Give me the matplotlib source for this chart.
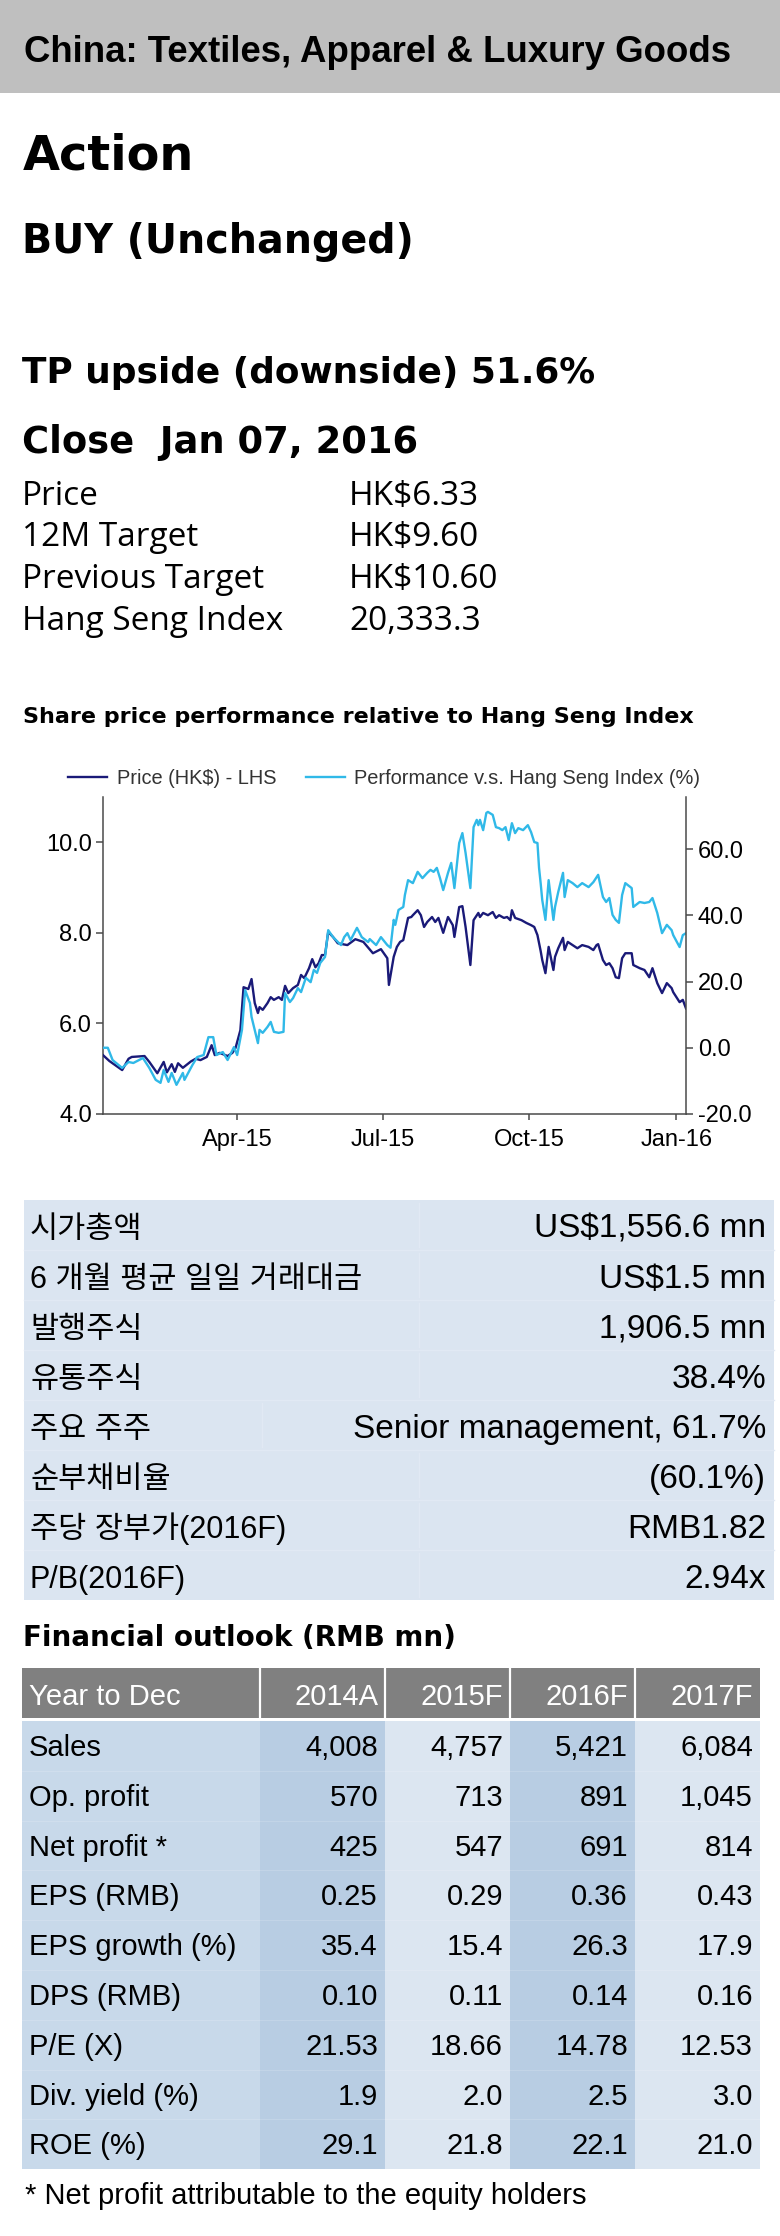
import matplotlib
matplotlib.use('Agg')
import matplotlib.pyplot as plt
import matplotlib.dates as mdates
from matplotlib.patches import Rectangle
from matplotlib.ticker import FormatStrFormatter
import pandas as pd

W, H = 780, 2236

# ---- text blocks ----
sector = 'China: Textiles, Apparel & Luxury Goods'
rating = 'BUY (Unchanged)'
upside_line = 'TP upside (downside) 51.6%'
close_line = 'Close  Jan 07, 2016'
quote_labels = ['Price', '12M Target', 'Previous Target', 'Hang Seng Index']
quote_values = ['HK$6.33', 'HK$9.60', 'HK$10.60', '20,333.3']

# ---- share price chart (days counted from 2015-01-07) ----
start = pd.Timestamp('2015-01-07')
price_day = [0, 4, 12, 16, 18, 26, 29, 34, 38, 40, 43, 45, 47, 50, 55, 58, 61, 65, 68, 70,
             73, 78, 81, 83, 86, 88, 91, 93, 95, 97, 98, 100, 103, 105, 107, 110, 112, 114, 116, 119,
             122, 124, 126, 129, 131, 133, 135, 137, 139, 141, 144, 147, 153, 158, 163, 169, 174, 178, 179, 182,
             184, 186, 188, 191, 193, 194, 197, 199, 201, 203, 206, 208, 210, 213, 216, 219, 220, 223, 225, 227,
             230, 232, 235, 236, 238, 241, 244, 246, 248, 251, 253, 255, 256, 258, 262, 265, 268, 270, 272, 274,
             275, 277, 279, 282, 283, 285, 288, 289, 291, 294, 297, 300, 304, 307, 309, 310, 313, 315, 317, 319,
             321, 323, 325, 327, 331, 332, 336, 339, 342, 344, 347, 350, 353, 356, 357, 361, 363, 365]
price_hkd = [5.30, 5.17, 4.97, 5.22, 5.26, 5.28, 5.15, 4.90, 5.15, 4.92, 5.10, 4.93, 5.12, 5.02, 5.16, 5.22, 5.19, 5.26, 5.52, 5.30,
             5.35, 5.28, 5.35, 5.46, 5.85, 6.80, 6.76, 6.98, 6.45, 6.23, 6.36, 6.30, 6.45, 6.58, 6.52, 6.58, 6.52, 6.83, 6.67, 6.78,
             6.85, 7.07, 7.00, 7.22, 7.42, 7.24, 7.33, 7.51, 7.51, 8.02, 7.91, 7.77, 7.73, 7.86, 7.80, 7.55, 7.64, 7.44, 6.85, 7.47,
             7.69, 7.80, 7.84, 8.33, 8.35, 8.39, 8.50, 8.39, 8.13, 8.24, 8.35, 8.24, 8.33, 8.00, 8.35, 8.17, 7.91, 8.57, 8.59, 8.13,
             7.29, 8.28, 8.44, 8.35, 8.44, 8.39, 8.46, 8.33, 8.39, 8.33, 8.35, 8.28, 8.50, 8.33, 8.28, 8.22, 8.17, 8.13, 7.95, 7.60,
             7.40, 7.11, 7.69, 7.18, 7.47, 7.66, 7.89, 7.62, 7.80, 7.73, 7.66, 7.73, 7.69, 7.62, 7.73, 7.75, 7.40, 7.29, 7.33, 7.22,
             7.02, 7.00, 7.44, 7.55, 7.55, 7.29, 7.22, 7.18, 7.02, 7.22, 6.89, 6.67, 6.89, 6.78, 6.69, 6.47, 6.52, 6.33]
perf_day = [0, 3, 6, 12, 16, 19, 25, 29, 33, 36, 38, 41, 43, 46, 50, 51, 56, 59, 63, 66,
            69, 71, 75, 78, 82, 84, 87, 89, 92, 93, 97, 98, 100, 103, 105, 107, 110, 113, 114, 117,
            119, 122, 124, 127, 130, 132, 134, 136, 139, 141, 144, 149, 151, 153, 155, 159, 162, 166, 167, 171,
            174, 178, 180, 182, 183, 185, 188, 189, 191, 194, 197, 200, 203, 205, 207, 209, 211, 213, 216, 218,
            220, 223, 225, 227, 230, 232, 234, 235, 236, 238, 240, 241, 244, 246, 248, 250, 252, 254, 256, 258,
            260, 263, 266, 268, 270, 272, 273, 274, 275, 277, 279, 282, 283, 285, 288, 289, 291, 294, 297, 300,
            304, 307, 309, 310, 313, 315, 317, 319, 321, 323, 325, 327, 331, 332, 336, 339, 342, 344, 347, 350,
            353, 356, 357, 361, 363, 365]
perf_pct = [0.0, 0.0, -3.7, -6.1, -4.3, -4.6, -3.1, -6.1, -9.7, -10.6, -6.7, -10.3, -7.6, -11.2, -7.6, -9.7, -5.2, -2.8, -2.2, 3.2,
            3.2, -2.2, -1.3, -3.7, 0.2, -2.2, 5.4, 17.4, 13.5, 9.3, 1.4, 5.4, 4.5, 6.3, 7.8, 4.8, 4.5, 4.8, 16.5, 13.8,
            15.0, 18.0, 16.8, 21.1, 19.8, 23.5, 22.6, 25.6, 27.4, 35.5, 33.4, 31.0, 33.4, 34.6, 32.5, 36.2, 33.4, 31.9, 32.8, 31.0,
            33.4, 31.0, 30.2, 38.6, 37.1, 41.6, 42.5, 46.1, 50.6, 49.7, 53.1, 51.2, 52.8, 53.7, 53.1, 54.3, 51.2, 47.6, 52.8, 55.8,
            48.2, 61.8, 64.8, 58.8, 48.2, 66.6, 68.8, 67.2, 68.8, 65.7, 70.9, 71.2, 70.3, 66.6, 66.3, 65.7, 66.6, 62.7, 67.8, 64.8,
            66.3, 65.7, 67.2, 65.1, 62.1, 61.8, 54.3, 49.7, 44.6, 38.6, 50.6, 38.6, 42.5, 47.0, 52.8, 45.5, 50.6, 49.7, 48.5, 49.7,
            48.5, 50.0, 51.5, 52.2, 45.5, 44.0, 45.2, 40.1, 38.6, 37.7, 46.1, 49.7, 48.2, 42.5, 44.0, 43.7, 44.0, 45.2, 40.7, 34.6,
            37.1, 35.5, 34.0, 30.4, 34.0, 34.6]
series_names = ['Price (HK$) - LHS', 'Performance v.s. Hang Seng Index (%)']
month_ticks = ['2015-04-01', '2015-07-01', '2015-10-01', '2016-01-01']

# ---- key data table ----
key_labels = ['시가총액', '6 개월 평균 일일 거래대금', '발행주식', '유통주식', '주요 주주',
              '순부채비율', '주당 장부가(2016F)', 'P/B(2016F)']
key_values = ['US$1,556.6 mn', 'US$1.5 mn', '1,906.5 mn', '38.4%', 'Senior management, 61.7%',
              '(60.1%)', 'RMB1.82', '2.94x']

# ---- financial outlook ----
fin_header = ['Year to Dec', '2014A', '2015F', '2016F', '2017F']
fin_rows = ['Sales', 'Op. profit', 'Net profit *', 'EPS (RMB)', 'EPS growth (%)',
            'DPS (RMB)', 'P/E (X)', 'Div. yield (%)', 'ROE (%)']
fin_2014a = [4008, 570, 425, 0.25, 35.4, 0.10, 21.53, 1.9, 29.1]
fin_2015f = [4757, 713, 547, 0.29, 15.4, 0.11, 18.66, 2.0, 21.8]
fin_2016f = [5421, 891, 691, 0.36, 26.3, 0.14, 14.78, 2.5, 22.1]
fin_2017f = [6084, 1045, 814, 0.43, 17.9, 0.16, 12.53, 3.0, 21.0]
row_fmt = ['{:,.0f}', '{:,.0f}', '{:,.0f}', '{:.2f}', '{:.1f}', '{:.2f}', '{:.2f}', '{:.1f}', '{:.1f}']
footnote = '* Net profit attributable to the equity holders'

NAVY = '#1a1a78'
CYAN = '#30b9e8'
ARIAL = 'Liberation Sans'
HEAD = 'DejaVu Sans'
KOR = ['Liberation Sans', 'Noto Sans CJK KR']

fig = plt.figure(figsize=(W / 100, H / 100), dpi=100)
bg = fig.add_axes([0, 0, 1, 1], zorder=0)
bg.set_xlim(0, W)
bg.set_ylim(H, 0)
bg.axis('off')

# header band
bg.add_patch(Rectangle((0, 0), W, 93, color='#bfbfbf', lw=0))
bg.text(24, 62, sector, family=ARIAL, weight='bold', fontsize=26.4, va='baseline')

bg.text(23, 170, 'Action', family=HEAD, weight='bold', fontsize=34.5, va='baseline')
bg.text(22, 253, rating, family=HEAD, weight='bold', fontsize=28.5, va='baseline')
bg.text(22, 383, upside_line, family=HEAD, weight='bold', fontsize=25.8, va='baseline')
bg.text(22, 453, close_line, family=HEAD, weight='bold', fontsize=26.6, va='baseline')

for i, (lab, val) in enumerate(zip(quote_labels, quote_values)):
    yb = 505 + 41.5 * i
    bg.text(22, yb, lab, family='Open Sans', fontsize=24, va='baseline')
    bg.text(349, yb, val, family='Open Sans', fontsize=24, va='baseline')

bg.text(23, 723, 'Share price performance relative to Hang Seng Index',
        family=HEAD, weight='bold', fontsize=16, va='baseline')

# ---- chart ----
x0, x1, ytop, ybot = 103, 686, 797, 1114
ax = fig.add_axes([x0 / W, 1 - ybot / H, (x1 - x0) / W, (ybot - ytop) / H], zorder=2)
ax.patch.set_alpha(0)
ax2 = ax.twinx()

pdates = start + pd.to_timedelta(price_day, unit='D')
qdates = start + pd.to_timedelta(perf_day, unit='D')
l1, = ax.plot(pdates, price_hkd, color=NAVY, lw=1.7, zorder=3)
l2, = ax2.plot(qdates, perf_pct, color=CYAN, lw=1.7, zorder=2)

ax.set_xlim(start, start + pd.Timedelta(days=365))
ax.set_ylim(4, 11)
ax.set_yticks([4, 6, 8, 10])
ax.yaxis.set_major_formatter(FormatStrFormatter('%.1f'))
ax2.set_ylim(-20, 75.7)
ax2.set_yticks([-20, 0, 20, 40, 60])
ax2.yaxis.set_major_formatter(FormatStrFormatter('%.1f'))
ax.set_xticks(pd.to_datetime(month_ticks))
ax.xaxis.set_major_formatter(mdates.DateFormatter('%b-%y'))

spc = '#4a4a4a'
for a in (ax, ax2):
    a.spines['top'].set_visible(False)
    for s in a.spines.values():
        s.set_color(spc)
        s.set_linewidth(1.1)
ax.spines['right'].set_visible(False)
ax2.spines['left'].set_visible(False)
ax2.spines['bottom'].set_visible(False)
ax.tick_params(axis='y', direction='out', length=5, width=1.1, color=spc, labelsize=17, pad=3)
ax.tick_params(axis='x', direction='out', length=4.5, width=1.1, color=spc, labelsize=17, pad=6)
ax2.tick_params(axis='y', direction='out', length=5, width=1.1, color=spc, labelsize=17, pad=3.5)
for lab in ax.get_xticklabels() + ax.get_yticklabels() + ax2.get_yticklabels():
    lab.set_family(ARIAL)

fig.legend([l1, l2], series_names, loc='center left', bbox_to_anchor=(68 / W, 1 - 778 / H),
           ncol=2, frameon=False, prop={'family': ARIAL, 'size': 14.4}, labelcolor='#333333',
           handlelength=1.95, handletextpad=0.5, columnspacing=1.45, borderpad=0, borderaxespad=0)

# ---- key data table ----
kt_top, kt_row = 1200, 50
bg.add_patch(Rectangle((24, kt_top), 750, kt_row * len(key_labels), color='#dbe5f1', lw=0))
for i, (lab, val) in enumerate(zip(key_labels, key_values)):
    ry = kt_top + kt_row * i
    if i > 0:
        bg.plot([24, 774], [ry, ry], color='#e1e9f4', lw=1)
    xs = 262 if i == 4 else 419
    bg.plot([xs, xs], [ry + 3, ry + kt_row - 3], color='#e1e9f4', lw=1)
    bg.text(30, ry + 38, lab, family=KOR, fontsize=22, va='baseline')
    bg.text(766, ry + 38, val, family=ARIAL, fontsize=24, va='baseline', ha='right')

# ---- financial outlook table ----
bg.text(23, 1646, 'Financial outlook (RMB mn)', family=HEAD, weight='bold', fontsize=20, va='baseline')
edges = [22, 260, 385, 510, 635, 760]
hd_top, hd_bot = 1668, 1718
body_top, row_h = 1721, 49.8
body_cols = ['#c8d9ea', '#b8cde3', '#dce6f1', '#b8cde3', '#dce6f1']
bg.add_patch(Rectangle((edges[0], hd_top), edges[-1] - edges[0], hd_bot - hd_top, color='#808080', lw=0))
for j in range(5):
    bg.add_patch(Rectangle((edges[j], body_top), edges[j + 1] - edges[j], row_h * len(fin_rows),
                           color=body_cols[j], lw=0))
for xe in edges[1:-1]:
    bg.plot([xe, xe], [hd_top, hd_bot], color='white', lw=1.6)
for i in range(1, len(fin_rows)):
    yl = body_top + row_h * i
    bg.plot([edges[0], edges[-1]], [yl, yl], color='white', lw=0.8, alpha=0.15)

bg.text(edges[0] + 7, 1705, fin_header[0], family=ARIAL, fontsize=21, color='white', va='baseline')
for j in range(1, 5):
    bg.text(edges[j + 1] - 7, 1705, fin_header[j], family=ARIAL, fontsize=21, color='white',
            va='baseline', ha='right')

cols = [fin_2014a, fin_2015f, fin_2016f, fin_2017f]
for i, name in enumerate(fin_rows):
    yb = body_top + row_h * i + 35
    bg.text(edges[0] + 7, yb, name, family=ARIAL, fontsize=21, va='baseline')
    for j, col in enumerate(cols):
        bg.text(edges[j + 2] - 7, yb, row_fmt[i].format(col[i]), family=ARIAL, fontsize=21,
                va='baseline', ha='right')

bg.text(25, 2204, footnote, family=ARIAL, fontsize=21, va='baseline')

fig.savefig('out.png', dpi=100)
